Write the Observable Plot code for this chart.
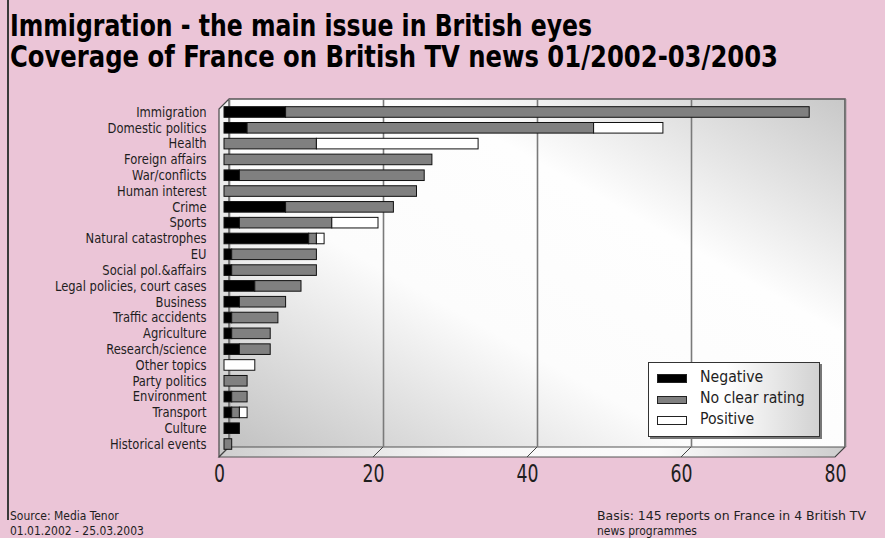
<!DOCTYPE html>
<html><head><meta charset="utf-8">
<script src="https://cdn.jsdelivr.net/npm/d3@7"></script>
<script src="https://cdn.jsdelivr.net/npm/@observablehq/plot@0.6"></script>
<style>
html,body{margin:0;padding:0;background:#EBC5D7;}
#wrap{position:relative;width:885px;height:538px;overflow:hidden;font-family:"Liberation Sans Narrow","DejaVu Sans Condensed",sans-serif;color:#1e1e1e;}
#wrap svg{position:absolute;left:0;top:0;}
.t{position:absolute;white-space:nowrap;transform-origin:0 0;line-height:1;}
#title{position:absolute;left:10px;top:10px;font-weight:bold;font-size:31px;line-height:31px;color:#000;margin:0;}
#title span{display:block;white-space:nowrap;transform-origin:0 0;width:max-content;}
.foot{font-size:13px;}
#legend{position:absolute;left:648px;top:362px;width:170px;height:73px;border:1px solid #333;background:linear-gradient(to right,#ffffff 45%,#d2d2d2);box-shadow:2px 2px 0 #777;}
.lrow{position:absolute;left:8px;height:20px;}
.sw{position:absolute;left:0;width:30px;height:9px;border:1px solid #222;box-sizing:border-box;}
.lt{position:absolute;left:43px;font-size:16.5px;line-height:1;white-space:nowrap;transform-origin:0 0;}
</style></head><body><div id="wrap"></div>
<script>
// ---- data ----
const categories = ["Immigration","Domestic politics","Health","Foreign affairs","War/conflicts","Human interest","Crime","Sports","Natural catastrophes","EU","Social pol.&affairs","Legal policies, court cases","Business","Traffic accidents","Agriculture","Research/science","Other topics","Party politics","Environment","Transport","Culture","Historical events"];
const negative = [8, 3, 0, 0, 2, 0, 8, 2, 11, 1, 1, 4, 2, 1, 1, 2, 0, 0, 1, 1, 2, 0];
const noClear  = [68, 45, 12, 27, 24, 25, 14, 12, 1, 11, 11, 6, 6, 6, 5, 4, 0, 3, 2, 1, 0, 1];
const positive = [0, 9, 21, 0, 0, 0, 0, 6, 1, 0, 0, 0, 0, 0, 0, 0, 4, 0, 0, 1, 0, 0];
const ratings = ["Negative","No clear rating","Positive"];
const ratingColors = ["#000000","#808080","#ffffff"];
const xTicks = [0, 20, 40, 60, 80];
const title1 = "Immigration - the main issue in British eyes";
const title2 = "Coverage of France on British TV news 01/2002-03/2003";
const source1 = "Source: Media Tenor";
const source2 = "01.01.2002 - 25.03.2003";
const basis1 = "Basis: 145 reports on France in 4 British TV";
const basis2 = "news programmes";

const data = [];
categories.forEach((c, i) => {
  [negative[i], noClear[i], positive[i]].forEach((v, j) => {
    if (v > 0) data.push({topic: c, rating: ratings[j], value: v});
  });
});

const D = 5; // half depth of pseudo-3D
const backdrop = (index, scales, values, dim) => {
  const x = scales.x;
  const xa = x(xTicks[0]), xb = x(xTicks[xTicks.length - 1]);
  const top = dim.marginTop, bot = dim.height - dim.marginBottom;
  const g = d3.create("svg:g");
  const defs = g.append("defs");
  const grad = (id, x1, y1, x2, y2, stops) => {
    const lg = defs.append("linearGradient").attr("id", id)
      .attr("x1", x1).attr("y1", y1).attr("x2", x2).attr("y2", y2);
    stops.forEach(([o, c]) => lg.append("stop").attr("offset", o).attr("stop-color", c));
  };
  grad("gWall", 0, 1, 1, 0, [[0, "#c2c2c2"], [0.38, "#fcfcfc"], [0.66, "#fefefe"], [1, "#c8c8c8"]]);
  grad("gFloor", 0, 0, 1, 0, [[0, "#cfcfcf"], [0.4, "#f7f7f7"], [0.7, "#fbfbfb"], [1, "#cdcdcd"]]);
  grad("gLeft", 0, 0, 0, 1, [[0, "#f4f4f4"], [1, "#c8c8c8"]]);
  g.append("rect").attr("x", xa + D).attr("y", top - D)
    .attr("width", xb - xa).attr("height", bot - top).attr("fill", "url(#gWall)");
  g.append("polygon")
    .attr("points", [[xa + D, top - D], [xa + D, bot - D], [xa - D, bot + D], [xa - D, top + D]].join(" "))
    .attr("fill", "url(#gLeft)").attr("stroke", "#4a4a4a").attr("stroke-width", 1.2).attr("stroke-linejoin", "round");
  g.append("polygon")
    .attr("points", [[xa + D, bot - D], [xb + D, bot - D], [xb - D, bot + D], [xa - D, bot + D]].join(" "))
    .attr("fill", "url(#gFloor)").attr("stroke", "#555").attr("stroke-width", 1.2);
  xTicks.forEach(t => {
    g.append("line").attr("x1", x(t) + D).attr("y1", bot - D).attr("x2", x(t) - D).attr("y2", bot + D)
      .attr("stroke", "#444").attr("stroke-width", 1);
  });
  g.append("path").attr("d", `M${xa + D},${top - D}H${xb + D}V${bot - D}`)
    .attr("fill", "none").attr("stroke", "#555").attr("stroke-width", 1.6);
  return g.node();
};

const W = 885, H = 538;
const chart = Plot.plot({
  width: W, height: H,
  marginLeft: 224, marginRight: 45, marginTop: 104, marginBottom: 86,
  style: {background: "transparent", fontFamily: '"Liberation Sans Narrow","DejaVu Sans Condensed",sans-serif', color: "#1e1e1e"},
  x: {domain: [0, 80], label: null},
  y: {domain: categories, paddingInner: 0.33, paddingOuter: 0.17, round: false, label: null},
  color: {domain: ratings, range: ratingColors},
  marks: [
    backdrop,
    Plot.ruleX(xTicks, {dx: D, dy: -D, stroke: "#7a7a7a", strokeWidth: 1.6}),
    Plot.barX(data, {x: "value", y: "topic", fill: "rating", stroke: "#111", strokeWidth: 1}),
    Plot.axisY({tickSize: 0, tickPadding: 18, fontSize: 13.5, label: null, fill: "#1e1e1e"}),
    Plot.axisX({ticks: xTicks, tickSize: 0, tickPadding: 12, dx: -D, fontSize: 24, label: null, fill: "#1e1e1e"})
  ]
});

const wrap = document.getElementById("wrap");
wrap.appendChild(chart);

// condense axis labels to mimic the narrow typeface
function condense(sel, k) {
  d3.select(chart).selectAll(sel).each(function () {
    const L = this.getComputedTextLength();
    this.setAttribute("textLength", (L * k).toFixed(1));
    this.setAttribute("lengthAdjust", "spacingAndGlyphs");
  });
}
condense('g[aria-label="y-axis tick label"] text', 0.95);
condense('g[aria-label="x-axis tick label"] text', 0.8);

// left border line
const border = document.createElement("div");
Object.assign(border.style, {position: "absolute", left: "7px", top: "0px", width: "1.5px", height: "520px", background: "#3a3a3a"});
wrap.appendChild(border);

// two-line title as one heading
const title = document.createElement("h1");
title.id = "title";
[[title1, 582], [title2, 768]].forEach(([txt, tw]) => {
  const s = document.createElement("span");
  s.textContent = txt;
  title.appendChild(s);
  s.dataset.tw = tw;
});
wrap.appendChild(title);
title.querySelectorAll("span").forEach(s => {
  const w = s.getBoundingClientRect().width;
  s.style.transform = `scaleX(${+s.dataset.tw / w})`;
});

function addText(txt, cls, left, top, targetW, k) {
  const el = document.createElement("div");
  el.className = "t " + cls;
  el.textContent = txt;
  el.style.left = left + "px";
  el.style.top = top + "px";
  wrap.appendChild(el);
  const w = el.getBoundingClientRect().width;
  const s = targetW ? targetW / w : (k || 1);
  el.style.transform = `scaleX(${s})`;
  return el;
}
addText(source1, "foot", 10, 509, null, 0.92);
addText(source2, "foot", 10, 524, null, 0.92);
addText(basis1, "foot", 597, 509, 269);
addText(basis2, "foot", 597, 524, null, 0.92);

// legend
const legend = document.createElement("div");
legend.id = "legend";
ratings.forEach((r, i) => {
  const row = document.createElement("div");
  row.className = "lrow";
  row.style.top = (9 + i * 21) + "px";
  const sw = document.createElement("div");
  sw.className = "sw";
  sw.style.background = ratingColors[i];
  sw.style.top = "2px";
  if (i === 1) { sw.style.height = "8px"; sw.style.top = "3px"; }
  const lt = document.createElement("div");
  lt.className = "lt";
  lt.textContent = r;
  lt.style.top = "-3px";
  lt.style.transform = "scaleX(0.95)";
  row.appendChild(sw); row.appendChild(lt);
  legend.appendChild(row);
});
wrap.appendChild(legend);
</script>
</body></html>
